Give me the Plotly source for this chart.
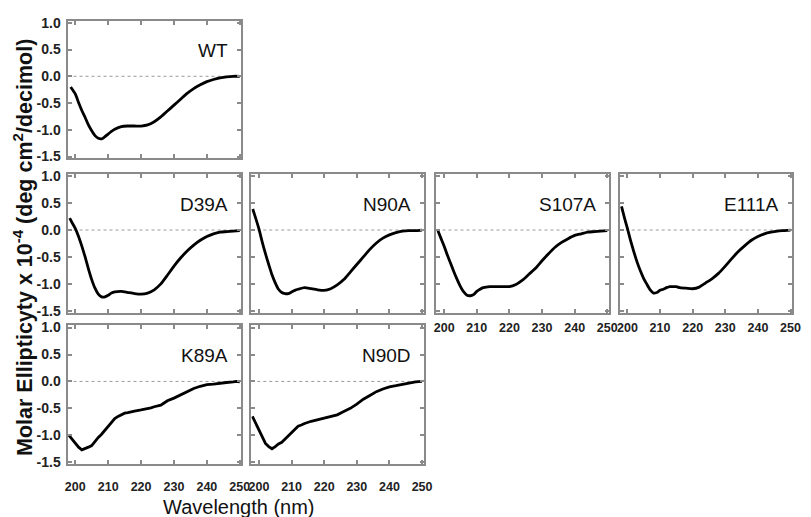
import plotly.graph_objects as go

# ---------------- data ----------------
panel_names = ["WT", "D39A", "N90A", "S107A", "E111A", "K89A", "N90D"]

wt_x = [198.6, 200, 201, 202, 203, 204, 205, 206, 207, 208, 209, 210, 211, 212, 214, 216, 218, 220,
        222, 224, 226, 228, 230, 232, 234, 236, 238, 240, 242, 244, 246, 248, 250]
wt_y = [-0.20, -0.33, -0.49, -0.64, -0.77, -0.91, -1.02, -1.11, -1.16, -1.17, -1.13, -1.08, -1.03, -0.99,
        -0.94, -0.93, -0.93, -0.93, -0.91, -0.85, -0.76, -0.65, -0.54, -0.43, -0.32, -0.23, -0.16,
        -0.10, -0.06, -0.03, -0.01, 0.0, 0.0]

d39a_x = [198.3, 199, 200, 201, 202, 203, 204, 205, 206, 207, 208, 209, 210, 211, 212, 214, 216, 218,
          220, 222, 224, 226, 228, 230, 232, 234, 236, 238, 240, 242, 244, 246, 248, 250]
d39a_y = [0.22, 0.14, 0.03, -0.12, -0.30, -0.50, -0.72, -0.92, -1.08, -1.19, -1.24, -1.24, -1.21, -1.17,
          -1.15, -1.14, -1.16, -1.18, -1.19, -1.17, -1.11, -1.00, -0.84, -0.67, -0.52, -0.39, -0.28,
          -0.19, -0.12, -0.07, -0.04, -0.03, -0.02, -0.01]

n90a_x = [198.1, 199, 200, 201, 202, 203, 204, 205, 206, 207, 208, 209, 210, 211, 212, 214, 216, 218,
          220, 222, 224, 226, 228, 230, 232, 234, 236, 238, 240, 242, 244, 246, 248, 250]
n90a_y = [0.39, 0.22, 0.02, -0.22, -0.44, -0.64, -0.83, -0.98, -1.10, -1.16, -1.18, -1.18, -1.15, -1.12,
          -1.10, -1.07, -1.09, -1.11, -1.12, -1.09, -1.02, -0.92, -0.78, -0.64, -0.50, -0.36, -0.24,
          -0.15, -0.09, -0.05, -0.02, -0.01, -0.01, 0.0]

s107a_x = [198, 199, 200, 201, 202, 203, 204, 205, 206, 207, 208, 209, 210, 211, 212, 214, 216, 218,
           220, 222, 224, 226, 228, 230, 232, 234, 236, 238, 240, 242, 244, 246, 248, 250]
s107a_y = [0.0, -0.15, -0.30, -0.47, -0.62, -0.78, -0.92, -1.05, -1.15, -1.21, -1.22, -1.20, -1.14,
           -1.10, -1.07, -1.05, -1.05, -1.05, -1.05, -1.01, -0.93, -0.82, -0.71, -0.57, -0.44, -0.32,
           -0.23, -0.16, -0.10, -0.07, -0.04, -0.03, -0.02, -0.01]

e111a_x = [198.2, 199, 200, 201, 202, 203, 204, 205, 206, 207, 208, 209, 210, 211, 212, 213, 214, 215,
           216, 218, 220, 222, 224, 226, 228, 230, 232, 234, 236, 238, 240, 242, 244, 246, 248, 250]
e111a_y = [0.44, 0.25, 0.03, -0.20, -0.41, -0.60, -0.76, -0.90, -1.01, -1.11, -1.17, -1.16, -1.12,
           -1.10, -1.07, -1.05, -1.05, -1.05, -1.07, -1.08, -1.09, -1.06, -0.98, -0.90, -0.80, -0.67,
           -0.53, -0.40, -0.29, -0.19, -0.12, -0.07, -0.04, -0.02, -0.01, 0.0]

k89a_x = [198.1, 199, 200, 201, 202, 203, 204, 205, 206, 207, 208, 209, 210, 211, 212, 213, 214, 215,
          216, 217, 218, 220, 222, 223, 224, 226, 227, 228, 230, 232, 234, 236, 238, 240, 242, 244,
          246, 248, 249, 250]
k89a_y = [-1.00, -1.07, -1.15, -1.22, -1.27, -1.25, -1.22, -1.19, -1.11, -1.04, -0.98, -0.91, -0.83,
          -0.75, -0.69, -0.65, -0.62, -0.59, -0.58, -0.56, -0.55, -0.53, -0.51, -0.49, -0.47, -0.44,
          -0.40, -0.36, -0.31, -0.25, -0.18, -0.13, -0.09, -0.06, -0.05, -0.03, -0.02, -0.01, 0.0,
          -0.01]

n90d_x = [198, 199, 200, 201, 202, 203, 204, 205, 206, 207, 208, 209, 210, 211, 212, 213, 214, 216,
          218, 220, 222, 224, 226, 228, 230, 232, 234, 236, 238, 240, 242, 244, 246, 248, 250]
n90d_y = [-0.65, -0.78, -0.92, -1.04, -1.15, -1.21, -1.25, -1.21, -1.16, -1.13, -1.07, -1.01, -0.95,
          -0.88, -0.83, -0.81, -0.78, -0.74, -0.71, -0.69, -0.66, -0.62, -0.56, -0.50, -0.42, -0.33,
          -0.26, -0.19, -0.14, -0.10, -0.08, -0.05, -0.03, -0.01, 0.0]

x_tick_vals = [200, 210, 220, 230, 240, 250]
x_tick_text = ["200", "210", "220", "230", "240", "250"]
y_tick_vals = [1.0, 0.5, 0.0, -0.5, -1.0, -1.5]
y_tick_text = ["1.0", "0.5", "0.0", "-0.5", "-1.0", "-1.5"]

y_title = "Molar Ellipticyty x 10<sup>-4</sup> (deg cm<sup>2</sup>/decimol)"
x_title = "Wavelength (nm)"

series = [
    (wt_x, wt_y, "spline"),
    (d39a_x, d39a_y, "spline"),
    (n90a_x, n90a_y, "spline"),
    (s107a_x, s107a_y, "spline"),
    (e111a_x, e111a_y, "spline"),
    (k89a_x, k89a_y, "linear"),
    (n90d_x, n90d_y, "linear"),
]

# ---------------- layout geometry ----------------
W, H = 811, 517
cols_px = [(65.5, 242), (252, 427), (440, 615), (626, 801)]
rows_px = [(15, 156), (172, 314), (327, 469)]
# (row, col, show x labels, show y labels, x label standoff)
placement = [
    (0, 0, False, True, 0),
    (1, 0, False, True, 0),
    (1, 1, False, False, 0),
    (1, 2, True, False, 2),
    (1, 3, True, False, 2),
    (2, 0, True, True, 10),
    (2, 1, True, False, 10),
]

FRAME = "#8a8a8a"
FONT = "Liberation Sans, Arial, Helvetica, sans-serif"

fig = go.Figure()
layout = dict(
    width=W, height=H, margin=dict(l=0, r=0, t=0, b=0),
    paper_bgcolor="white", plot_bgcolor="white", showlegend=False,
    font=dict(family=FONT, color="#111"),
)
annotations = []
shapes = []

for i, ((sx, sy, shp), (r, c, showx, showy, stand)) in enumerate(zip(series, placement)):
    k = "" if i == 0 else str(i + 1)
    x0, x1 = cols_px[c]
    y0, y1 = rows_px[r]
    common = dict(showline=True, linecolor=FRAME, linewidth=2, mirror="ticks",
                  ticks="inside", ticklen=4, tickwidth=1.5, tickcolor=FRAME,
                  showgrid=False, zeroline=False)
    layout["xaxis" + k] = dict(
        common, domain=[x0 / W, x1 / W], range=[197.65, 250.5],
        tickvals=x_tick_vals, ticktext=x_tick_text, showticklabels=showx,
        ticklabelstandoff=stand,
        tickfont=dict(family=FONT, size=12.5, weight="bold", color="#222"),
        anchor="y" + k,
    )
    layout["yaxis" + k] = dict(
        common, domain=[1 - y1 / H, 1 - y0 / H], range=[-1.535, 1.04],
        tickvals=y_tick_vals, ticktext=y_tick_text, showticklabels=showy,
        ticklabelstandoff=2,
        tickfont=dict(family=FONT, size=14, weight="bold", color="#222"),
        anchor="x" + k,
    )
    fig.add_trace(go.Scatter(
        x=sx, y=sy, mode="lines", xaxis="x" + k, yaxis="y" + k,
        line=dict(color="black", width=2.8, shape=shp, smoothing=0.6),
        hoverinfo="skip",
    ))
    shapes.append(dict(type="line", xref="x" + k + " domain", yref="y" + k,
                       x0=0, x1=1, y0=0, y1=0, layer="below",
                       line=dict(color="#9a9a9a", width=1, dash="dot")))
    annotations.append(dict(text=panel_names[i], xref="x" + k + " domain", yref="y" + k,
                            x=1, y=0.48, xanchor="right", yanchor="middle", xshift=-11,
                            showarrow=False,
                            font=dict(family=FONT, size=19, color="#111")))

annotations.append(dict(text=y_title, xref="paper", yref="paper", x=21 / W, y=1 - 247 / H,
                        textangle=-90, showarrow=False, xanchor="center", yanchor="middle",
                        font=dict(family=FONT, size=21.5, weight="bold", color="#111")))
annotations.append(dict(text=x_title, xref="paper", yref="paper", x=240 / W, y=0,
                        showarrow=False, xanchor="center", yanchor="bottom", yshift=-9,
                        font=dict(family=FONT, size=20, color="#111")))

layout["annotations"] = annotations
layout["shapes"] = shapes
fig.update_layout(**layout)
fig.write_html("out.html")
